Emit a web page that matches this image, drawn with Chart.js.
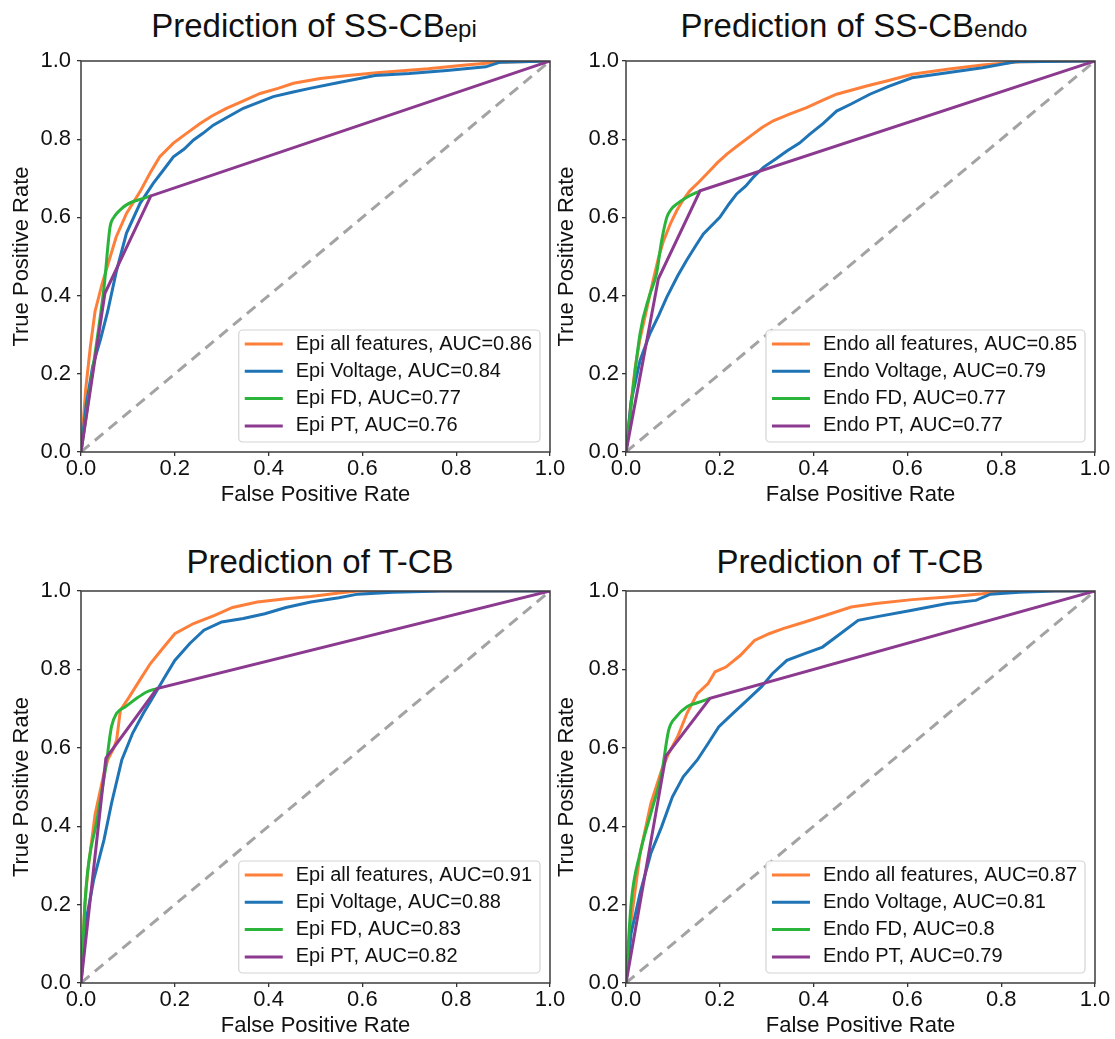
<!DOCTYPE html>
<html>
<head>
<meta charset="utf-8">
<script src="https://cdn.jsdelivr.net/npm/chart.js@4.4.1/dist/chart.umd.min.js"></script>
<style>
  body { margin: 0; background: #fff; width: 1115px; height: 1039px; position: relative; overflow: hidden;
         font-family: "Liberation Sans", Arial, sans-serif; }
  canvas { position: absolute; }
  .titel { position: absolute; width: 440px; text-align: center; font-size: 33px; line-height: 33px;
           color: #111; white-space: nowrap; }
  .titel span { font-size: 24px; }
</style>
</head>
<body>
<div class="titel" style="left:94px; top:9px">Prediction of SS-CB<span>epi</span></div>
<div class="titel" style="left:634px; top:9px">Prediction of SS-CB<span>endo</span></div>
<div class="titel" style="left:100px; top:545px">Prediction of T-CB</div>
<div class="titel" style="left:630px; top:545px">Prediction of T-CB</div>

<canvas id="c1" width="570" height="468" style="left:0; top:40px"></canvas>
<canvas id="c2" width="570" height="468" style="left:545px; top:40px"></canvas>
<canvas id="c3" width="570" height="469" style="left:0; top:570px"></canvas>
<canvas id="c4" width="570" height="469" style="left:545px; top:570px"></canvas>

<script>
// tick values, both axes
const tickValues = [0, 0.2, 0.4, 0.6, 0.8, 1.0];

// ROC points [fpr, tpr]
// SS-CB epi
const epiAll1 = [[0,0],[0.01,0.16],[0.02,0.27],[0.03,0.36],[0.045,0.43],[0.06,0.49],[0.075,0.55],[0.097,0.61],[0.115,0.645],[0.126,0.666],[0.147,0.713],[0.168,0.755],[0.197,0.79],[0.225,0.815],[0.254,0.84],[0.28,0.86],[0.31,0.879],[0.35,0.9],[0.382,0.917],[0.42,0.93],[0.453,0.943],[0.51,0.955],[0.57,0.963],[0.63,0.97],[0.74,0.98],[0.82,0.99],[0.89,0.997],[1,1]];
const epiVolt1 = [[0,0],[0.011,0.12],[0.025,0.22],[0.042,0.29],[0.057,0.36],[0.075,0.46],[0.097,0.56],[0.126,0.636],[0.154,0.687],[0.175,0.72],[0.197,0.755],[0.22,0.775],[0.24,0.798],[0.26,0.815],[0.282,0.836],[0.31,0.855],[0.346,0.879],[0.38,0.895],[0.41,0.909],[0.45,0.92],[0.488,0.93],[0.55,0.945],[0.627,0.963],[0.7,0.968],[0.78,0.976],[0.863,0.985],[0.894,0.997],[1,1]];
const epiFd1 = [[0,0],[0.027,0.227],[0.049,0.42],[0.062,0.576],[0.07,0.6],[0.076,0.61],[0.086,0.622],[0.097,0.632],[0.11,0.64],[0.126,0.646],[0.149,0.655]];
const epiPt1 = [[0,0],[0.051,0.406],[0.149,0.655],[1,1]];

// SS-CB endo
const endoAll2 = [[0,0],[0.01,0.12],[0.02,0.22],[0.03,0.29],[0.045,0.37],[0.058,0.44],[0.07,0.5],[0.08,0.54],[0.095,0.585],[0.108,0.617],[0.122,0.645],[0.136,0.668],[0.155,0.69],[0.172,0.711],[0.195,0.74],[0.215,0.762],[0.24,0.785],[0.271,0.813],[0.29,0.83],[0.314,0.847],[0.35,0.865],[0.385,0.881],[0.42,0.9],[0.449,0.915],[0.513,0.936],[0.56,0.95],[0.61,0.966],[0.685,0.979],[0.76,0.99],[0.84,0.998],[1,1]];
const endoVolt2 = [[0,0],[0.011,0.13],[0.03,0.234],[0.051,0.303],[0.07,0.35],[0.087,0.396],[0.11,0.45],[0.129,0.49],[0.15,0.53],[0.165,0.558],[0.2,0.6],[0.22,0.635],[0.236,0.66],[0.255,0.68],[0.271,0.702],[0.293,0.728],[0.32,0.75],[0.343,0.77],[0.37,0.79],[0.392,0.813],[0.42,0.84],[0.449,0.872],[0.48,0.89],[0.52,0.915],[0.56,0.935],[0.61,0.957],[0.685,0.97],[0.76,0.983],[0.83,0.998],[1,1]];
const endoFd2 = [[0,0],[0.03,0.303],[0.05,0.4],[0.065,0.456],[0.076,0.54],[0.087,0.6],[0.097,0.622],[0.108,0.634],[0.129,0.651],[0.158,0.668]];
const endoPt2 = [[0,0],[0.069,0.443],[0.158,0.668],[1,1]];

// T-CB epi
const epiAll3 = [[0,0],[0.008,0.2],[0.015,0.29],[0.03,0.43],[0.049,0.535],[0.057,0.569],[0.07,0.6],[0.076,0.62],[0.084,0.696],[0.103,0.73],[0.125,0.772],[0.148,0.815],[0.171,0.849],[0.2,0.891],[0.24,0.917],[0.285,0.938],[0.323,0.958],[0.376,0.972],[0.437,0.98],[0.49,0.986],[0.55,0.995],[0.59,1],[1,1]];
const epiVolt3 = [[0,0],[0.011,0.16],[0.027,0.263],[0.049,0.365],[0.065,0.458],[0.087,0.569],[0.11,0.637],[0.133,0.688],[0.156,0.734],[0.179,0.781],[0.2,0.823],[0.232,0.866],[0.262,0.9],[0.3,0.921],[0.346,0.93],[0.392,0.942],[0.437,0.958],[0.49,0.972],[0.55,0.983],[0.59,0.992],[0.665,0.997],[0.77,1],[1,1]];
const epiFd3 = [[0,0],[0.011,0.246],[0.034,0.416],[0.053,0.552],[0.065,0.654],[0.076,0.688],[0.095,0.705],[0.118,0.726],[0.141,0.743],[0.162,0.751]];
const epiPt3 = [[0,0],[0.053,0.573],[0.162,0.751],[1,1]];

// T-CB endo
const endoAll4 = [[0,0],[0.011,0.16],[0.03,0.33],[0.053,0.458],[0.076,0.543],[0.091,0.586],[0.11,0.628],[0.13,0.688],[0.152,0.738],[0.175,0.764],[0.19,0.794],[0.213,0.806],[0.244,0.836],[0.274,0.874],[0.305,0.891],[0.335,0.904],[0.381,0.921],[0.426,0.938],[0.48,0.959],[0.533,0.968],[0.61,0.978],[0.685,0.985],[0.76,0.993],[0.807,1],[1,1]];
const endoVolt4 = [[0,0],[0.011,0.127],[0.03,0.229],[0.053,0.331],[0.076,0.399],[0.099,0.475],[0.122,0.526],[0.152,0.569],[0.175,0.611],[0.198,0.654],[0.228,0.688],[0.259,0.722],[0.289,0.756],[0.312,0.789],[0.343,0.823],[0.381,0.84],[0.419,0.857],[0.457,0.891],[0.495,0.925],[0.533,0.934],[0.61,0.951],[0.685,0.968],[0.746,0.976],[0.777,0.992],[0.838,0.997],[0.914,1],[1,1]];
const endoFd4 = [[0,0],[0.011,0.204],[0.03,0.331],[0.053,0.433],[0.076,0.535],[0.091,0.645],[0.107,0.679],[0.13,0.705],[0.152,0.715],[0.179,0.726]];
const endoPt4 = [[0,0],[0.085,0.579],[0.179,0.726],[1,1]];

const chance = [[0,0],[1,1]];

const labels1 = ["Epi all features, AUC=0.86", "Epi Voltage, AUC=0.84", "Epi FD, AUC=0.77", "Epi PT, AUC=0.76"];
const labels2 = ["Endo all features, AUC=0.85", "Endo Voltage, AUC=0.79", "Endo FD, AUC=0.77", "Endo PT, AUC=0.77"];
const labels3 = ["Epi all features, AUC=0.91", "Epi Voltage, AUC=0.88", "Epi FD, AUC=0.83", "Epi PT, AUC=0.82"];
const labels4 = ["Endo all features, AUC=0.87", "Endo Voltage, AUC=0.81", "Endo FD, AUC=0.8", "Endo PT, AUC=0.79"];

const kleuren = ["#fe7f3a", "#1f74b6", "#2bb43a", "#8b3a8f"];

const FONT = '"Liberation Sans", Arial, sans-serif';
Chart.defaults.font.family = FONT;
Chart.defaults.color = "#111";

// frame + legend box in the lower right corner
const kaderEnLegenda = {
    id: "kaderEnLegenda",
    afterDatasetsDraw(chart) {
        const ctx = chart.ctx;
        const a = chart.chartArea;
        ctx.save();
        ctx.strokeStyle = "#3c3c3c";
        ctx.lineWidth = 1.5;
        ctx.strokeRect(a.left, a.top, a.right - a.left, a.bottom - a.top);

        const items = chart.data.datasets.filter(d => d.label);
        ctx.font = "20px " + FONT;
        const tw = Math.max(...items.map(d => ctx.measureText(d.label).width));
        const w = 6 + 38 + 13 + tw + 8, h = 112, r = 4;
        const x = a.right - 10 - w, y = a.bottom - 10 - h;

        ctx.beginPath();
        ctx.moveTo(x + r, y);
        ctx.arcTo(x + w, y, x + w, y + h, r);
        ctx.arcTo(x + w, y + h, x, y + h, r);
        ctx.arcTo(x, y + h, x, y, r);
        ctx.arcTo(x, y, x + w, y, r);
        ctx.closePath();
        ctx.fillStyle = "rgba(255,255,255,0.92)";
        ctx.fill();
        ctx.strokeStyle = "#d4d4d4";
        ctx.lineWidth = 1.2;
        ctx.stroke();

        items.forEach((d, i) => {
            const ry = y + 14 + i * 27.3;
            ctx.beginPath();
            ctx.moveTo(x + 6, ry);
            ctx.lineTo(x + 44, ry);
            ctx.strokeStyle = d.borderColor;
            ctx.lineWidth = 3;
            ctx.stroke();
            ctx.fillStyle = "#111";
            ctx.textBaseline = "middle";
            ctx.textAlign = "left";
            ctx.fillText(d.label, x + 57, ry);
        });
        ctx.restore();
    }
};

function punten(arr) {
    return arr.map(p => ({ x: p[0], y: p[1] }));
}

function maakPaneel(id, reeksen, labels, yPad) {
    const datasets = reeksen.map((r, i) => ({
        label: labels[i],
        data: punten(r),
        borderColor: kleuren[i],
        borderWidth: 3,
        pointRadius: 0,
        showLine: true,
        tension: 0,
        cubicInterpolationMode: i === 2 ? "monotone" : "default",
        order: 4 - i
    }));
    datasets.push({
        label: "",
        data: punten(chance),
        borderColor: "#a3a3a3",
        borderWidth: 3,
        borderDash: [11, 7],
        pointRadius: 0,
        showLine: true,
        order: 10
    });

    new Chart(document.getElementById(id), {
        type: "scatter",
        data: { datasets: datasets },
        options: {
            responsive: false,
            animation: false,
            layout: { padding: { left: 0, right: 20, top: 21, bottom: 0 } },
            plugins: { legend: { display: false }, tooltip: { enabled: false } },
            scales: {
                x: {
                    type: "linear", min: 0, max: 1,
                    afterBuildTicks: s => { s.ticks = tickValues.map(v => ({ value: v })); },
                    afterFit: s => { s.height = 56; },
                    ticks: { callback: v => v.toFixed(1), font: { size: 22 }, padding: 0, maxRotation: 0, autoSkip: false },
                    grid: { drawOnChartArea: false, tickLength: 4, color: "#333", lineWidth: 1.3 },
                    border: { display: false },
                    title: { display: true, text: "False Positive Rate", font: { size: 22 }, padding: { top: 0, bottom: 0 } }
                },
                y: {
                    type: "linear", min: 0, max: 1,
                    afterBuildTicks: s => { s.ticks = tickValues.map(v => ({ value: v })); },
                    afterFit: s => { s.width = 81; },
                    ticks: { callback: v => v.toFixed(1), font: { size: 22 }, padding: yPad },
                    grid: { drawOnChartArea: false, tickLength: 4, color: "#333", lineWidth: 1.3 },
                    border: { display: false },
                    title: { display: true, text: "True Positive Rate", font: { size: 22 }, padding: { top: 9, bottom: 0 } }
                }
            }
        },
        plugins: [kaderEnLegenda]
    });
}

maakPaneel("c1", [epiAll1, epiVolt1, epiFd1, epiPt1], labels1, 6);
maakPaneel("c2", [endoAll2, endoVolt2, endoFd2, endoPt2], labels2, 3);
maakPaneel("c3", [epiAll3, epiVolt3, epiFd3, epiPt3], labels3, 6);
maakPaneel("c4", [endoAll4, endoVolt4, endoFd4, endoPt4], labels4, 3);
</script>
</body>
</html>
